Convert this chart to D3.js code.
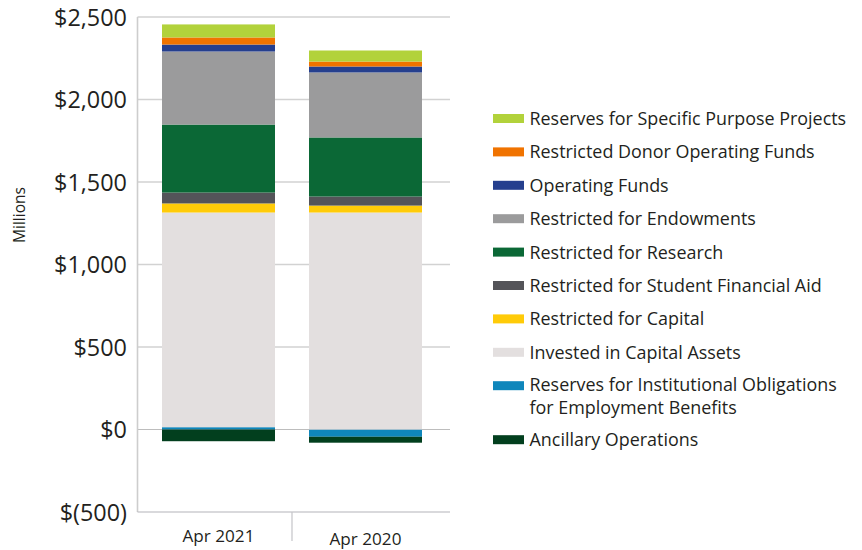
<!DOCTYPE html>
<html>
<head>
<meta charset="utf-8">
<script src="https://cdn.jsdelivr.net/npm/d3@7"></script>
<style>
  body { margin: 0; background: #fff; }
  svg { display: block; font-family: "Open Sans", "Noto Sans", sans-serif; }
</style>
</head>
<body>
<svg id="chart" width="862" height="550"></svg>
<script>
// Net position by category, in millions of dollars
const categories = ["Apr 2021", "Apr 2020"];

const specificPurposeProjects = [79, 67];
const donorOperatingFunds     = [43, 30];
const operatingFunds          = [42, 36];
const endowments              = [443, 394];
const research                = [412, 358];
const studentFinancialAid     = [66, 55];
const capital                 = [55, 42];
const capitalAssets           = [1301, 1315];
const employmentBenefits      = [14, -44];
const ancillaryOperations     = [-71, -36];

const tickValues = [-500, 0, 500, 1000, 1500, 2000, 2500];
const tickLabels = ["$(500)", "$0", "$500", "$1,000", "$1,500", "$2,000", "$2,500"];

// Legend order (top to bottom)
const series = [
  { key: "Reserves for Specific Purpose Projects", values: specificPurposeProjects, color: "#b2d23b" },
  { key: "Restricted Donor Operating Funds", values: donorOperatingFunds, color: "#f07300" },
  { key: "Operating Funds", values: operatingFunds, color: "#253f8e" },
  { key: "Restricted for Endowments", values: endowments, color: "#9b9b9c" },
  { key: "Restricted for Research", values: research, color: "#0b6836" },
  { key: "Restricted for Student Financial Aid", values: studentFinancialAid, color: "#545459" },
  { key: "Restricted for Capital", values: capital, color: "#ffcb08" },
  { key: "Invested in Capital Assets", values: capitalAssets, color: "#e3dfdf" },
  { key: "Reserves for Institutional Obligations\nfor Employment Benefits", values: employmentBenefits, color: "#0f86bb" },
  { key: "Ancillary Operations", values: ancillaryOperations, color: "#023f1e" }
];

// Stacking order from the baseline outward
const stackKeys = [
  "Reserves for Institutional Obligations\nfor Employment Benefits",
  "Ancillary Operations",
  "Invested in Capital Assets",
  "Restricted for Capital",
  "Restricted for Student Financial Aid",
  "Restricted for Research",
  "Restricted for Endowments",
  "Operating Funds",
  "Restricted Donor Operating Funds",
  "Reserves for Specific Purpose Projects"
];

const rows = categories.map((c, i) => {
  const r = { category: c };
  series.forEach(s => { r[s.key] = s.values[i]; });
  return r;
});
const colorOf = new Map(series.map(s => [s.key, s.color]));

const svg = d3.select("#chart");
const plot = { left: 137.5, right: 450, top: 17, bottom: 512 };

const y = d3.scaleLinear().domain([-500, 2500]).range([plot.bottom, plot.top]);
const x = d3.scaleBand().domain(categories)
  .range([plot.left, 446.5]).paddingInner(0.2313).paddingOuter(0.1667);

const textColor = "#231f20";

// Font size that makes the widest text in a selection span the given width
function fitFont(sel, width, base) {
  let widest = 0;
  sel.each(function () { widest = Math.max(widest, this.getComputedTextLength()); });
  return base * width / widest;
}

// Gridlines
svg.append("g").selectAll("line")
  .data(tickValues.filter(v => v > 0))
  .join("line")
  .attr("x1", plot.left).attr("x2", plot.right)
  .attr("y1", d => y(d)).attr("y2", d => y(d))
  .attr("stroke", "#d2d2d2").attr("stroke-width", 1.6);

svg.append("line")
  .attr("x1", plot.left).attr("x2", plot.right)
  .attr("y1", y(0)).attr("y2", y(0))
  .attr("stroke", "#bdbdbd").attr("stroke-width", 1.2);

// Stacked bars
const stacked = d3.stack().keys(stackKeys).offset(d3.stackOffsetDiverging)(rows);
svg.append("g").selectAll("g")
  .data(stacked)
  .join("g")
  .attr("fill", d => colorOf.get(d.key))
  .selectAll("rect")
  .data(d => d)
  .join("rect")
  .attr("x", d => x(d.data.category))
  .attr("width", x.bandwidth())
  .attr("y", d => y(Math.max(d[0], d[1])))
  .attr("height", d => Math.abs(y(d[0]) - y(d[1])));

// Left axis line and bottom axis line
svg.append("line")
  .attr("x1", plot.left).attr("x2", plot.left)
  .attr("y1", plot.top).attr("y2", plot.bottom)
  .attr("stroke", "#cdcdcd").attr("stroke-width", 1.6);
svg.append("line")
  .attr("x1", plot.left).attr("x2", plot.right)
  .attr("y1", plot.bottom).attr("y2", plot.bottom)
  .attr("stroke", "#b4b4ba").attr("stroke-width", 1.2);

// Category divider below the axis
const divX = x(categories[0]) + x.bandwidth() + x.step() * x.paddingInner() / 2;
svg.append("line")
  .attr("x1", divX).attr("x2", divX)
  .attr("y1", plot.bottom).attr("y2", plot.bottom + 29)
  .attr("stroke", "#c4c4c8").attr("stroke-width", 1.2);

// Y tick labels
const yLabels = svg.append("g").selectAll("text")
  .data(tickValues)
  .join("text")
  .attr("x", 127)
  .attr("y", d => y(d))
  .attr("dy", "0.38em")
  .attr("text-anchor", "end")
  .attr("font-size", 20)
  .attr("fill", textColor)
  .text((d, i) => tickLabels[i]);
yLabels.attr("font-size", fitFont(yLabels.filter(d => d === 2500), 73, 20));

// Y axis title
const yTitle = svg.append("text")
  .attr("transform", `translate(25,${y(1300)}) rotate(-90)`)
  .attr("text-anchor", "middle")
  .attr("font-size", 16)
  .attr("fill", textColor)
  .text("Millions");
yTitle.attr("font-size", fitFont(yTitle, 56, 16));

// Category labels
const xLabels = svg.append("g").selectAll("text")
  .data(categories)
  .join("text")
  .attr("x", d => x(d) + x.bandwidth() / 2)
  .attr("y", (d, i) => 542 + i * 3)
  .attr("text-anchor", "middle")
  .attr("font-size", 17)
  .attr("fill", textColor)
  .text(d => d);
xLabels.attr("font-size", fitFont(xLabels, 72, 17));

// Legend: swatch plus label; wrapped labels get one text per line
const legend = svg.append("g");
const lineGap = 22.8;
let rowY = 118.5;
series.forEach(s => {
  const lines = s.key.split("\n");
  const first = rowY - (lines.length - 1) * 1.3;
  legend.append("rect")
    .attr("x", 493).attr("y", rowY - 4.5)
    .attr("width", 31).attr("height", 9)
    .attr("fill", s.color);
  lines.forEach((ln, j) => {
    legend.append("text")
      .attr("class", "legend-label")
      .attr("x", 529.5)
      .attr("y", first + j * lineGap)
      .attr("dy", "0.36em")
      .attr("font-size", 17)
      .attr("fill", textColor)
      .text(ln);
  });
  rowY += 33.4 + (lines.length - 1) * 20.6;
});
const legendLabels = legend.selectAll(".legend-label");
legendLabels.attr("font-size", fitFont(legendLabels, 317, 17));
</script>
</body>
</html>
